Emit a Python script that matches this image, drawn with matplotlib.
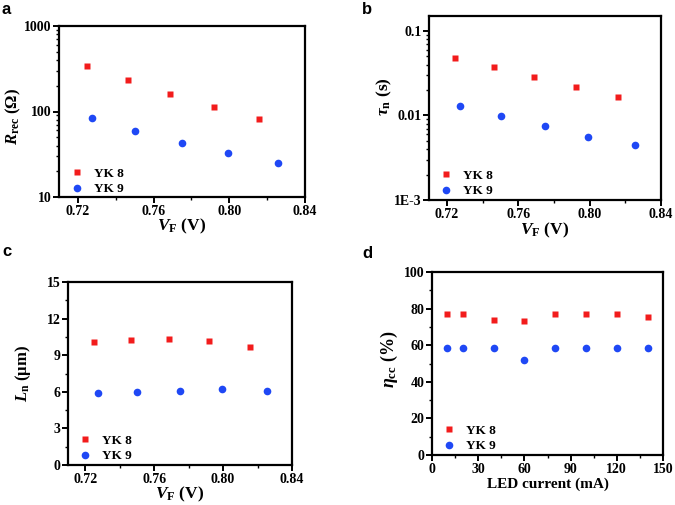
import numpy as np
import matplotlib.pyplot as plt
from matplotlib.ticker import MultipleLocator, LogLocator

# --- data ---
vf_yk8 = [0.7248, 0.7464, 0.7689, 0.7921, 0.8159]
vf_yk9 = [0.7273, 0.7503, 0.7749, 0.7991, 0.8256]

rrec_yk8 = [342, 234, 161, 112, 81]
rrec_yk9 = [84, 59.4, 42.3, 33.1, 25.1]

tau_yk8 = [0.0484, 0.0372, 0.0284, 0.0216, 0.0166]
tau_yk9 = [0.0130, 0.0098, 0.00755, 0.0056, 0.0045]

ln_yk8 = [10.07, 10.27, 10.35, 10.18, 9.66]
ln_yk9 = [5.89, 6.0, 6.05, 6.21, 6.1]

current = [10, 20, 40, 60, 80, 100, 120, 140]
eta_yk8 = [77.0, 77.0, 73.9, 73.0, 77.0, 77.0, 77.0, 75.4]
eta_yk9 = [58.6, 58.6, 58.6, 52.0, 58.6, 58.6, 58.6, 58.6]

red = '#f21c1c'
blue = '#1f48f5'

plt.rcParams['font.family'] = ['Liberation Serif', 'DejaVu Serif']
plt.rcParams['font.weight'] = 'bold'
plt.rcParams['mathtext.fontset'] = 'custom'
plt.rcParams['mathtext.rm'] = 'Liberation Serif:bold'
plt.rcParams['mathtext.it'] = 'Liberation Serif:italic:bold'
plt.rcParams['mathtext.bf'] = 'Liberation Serif:bold'
plt.rcParams['axes.linewidth'] = 1.6

fig = plt.figure(figsize=(6.75, 5.05), dpi=100)

# axes boxes in pixels: left, top, right, bottom
W, H = 675, 505
def box(l, t, r, b):
    return [l / W, (H - b) / H, (r - l) / W, (b - t) / H]

ax_a = fig.add_axes(box(59, 26, 305, 197))
ax_b = fig.add_axes(box(429, 16, 661, 200))
ax_c = fig.add_axes(box(68, 282, 292, 465))
ax_d = fig.add_axes(box(432, 272, 663, 455))

TICK = 10
LAB = 12


def style(ax):
    ax.tick_params(which='major', direction='out', length=4, width=1.4,
                   labelsize=TICK, pad=1.5)
    ax.tick_params(which='minor', direction='out', length=2.5, width=1.0)
    for lab in ax.get_xticklabels() + ax.get_yticklabels():
        lab.set_fontweight('bold')


def plot_pair(ax, x8, y8, x9, y9):
    ax.plot(x8, y8, 's', color=red, ms=5, mec='none', label='YK 8')
    ax.plot(x9, y9, 'o', color=blue, ms=5.5, mec='none', label='YK 9')
    ax.legend(loc='center left', bbox_to_anchor=(0.045, 0.09), frameon=False,
              borderpad=0, borderaxespad=0,
              handlelength=1.0, handletextpad=0.8, labelspacing=0.25,
              prop={'weight': 'bold', 'size': 9.5})


def vf_axis(ax, ylab_y):
    ax.set_xlim(0.71, 0.84)
    ax.set_xticks([0.72, 0.76, 0.80, 0.84])
    ax.set_xticklabels(['0.72', '0.76', '0.80', '0.84'])
    ax.xaxis.set_minor_locator(MultipleLocator(0.02))
    ax.set_xlabel(r'$\mathit{V}_{\mathrm{F}}$ (V)', fontsize=12.5, fontweight='bold')
    ax.xaxis.set_label_coords(0.5, ylab_y)


def log_minor(ax):
    ax.yaxis.set_minor_locator(LogLocator(base=10, subs=np.arange(2, 10)))


# a
plot_pair(ax_a, vf_yk8, rrec_yk8, vf_yk9, rrec_yk9)
ax_a.set_yscale('log')
ax_a.set_ylim(10, 1000)
ax_a.set_yticks([10, 100, 1000])
ax_a.set_yticklabels(['10', '100', '1000'])
log_minor(ax_a)
vf_axis(ax_a, -0.115)
ax_a.set_ylabel(r'$\mathit{R}_{\mathrm{rec}}$ ($\Omega$)', fontsize=LAB, fontweight='bold')
ax_a.yaxis.set_label_coords(-0.146, 0.47)
style(ax_a)

# b
plot_pair(ax_b, vf_yk8, tau_yk8, vf_yk9, tau_yk9)
ax_b.set_yscale('log')
ax_b.set_ylim(0.001, 0.15)
ax_b.set_yticks([0.001, 0.01, 0.1])
ax_b.set_yticklabels(['1E-3', '0.01', '0.1'])
log_minor(ax_b)
vf_axis(ax_b, -0.115)
ax_b.set_ylabel(r'$\mathit{\tau}_{\mathrm{n}}$ (s)', fontsize=12.5, fontweight='bold')
ax_b.yaxis.set_label_coords(-0.151, 0.56)
style(ax_b)

# c
plot_pair(ax_c, vf_yk8, ln_yk8, vf_yk9, ln_yk9)
ax_c.set_ylim(0, 15)
ax_c.set_yticks([0, 3, 6, 9, 12, 15])
ax_c.yaxis.set_minor_locator(MultipleLocator(1.5))
vf_axis(ax_c, -0.11)
ax_c.set_ylabel(r'$\mathit{L}_{\mathrm{n}}$ ($\mathrm{\mu}$m)', fontsize=LAB, fontweight='bold')
ax_c.yaxis.set_label_coords(-0.156, 0.5)
style(ax_c)

# d
plot_pair(ax_d, current, eta_yk8, current, eta_yk9)
ax_d.set_xlim(0, 150)
ax_d.set_xticks([0, 30, 60, 90, 120, 150])
ax_d.xaxis.set_minor_locator(MultipleLocator(15))
ax_d.set_ylim(0, 100)
ax_d.set_yticks([0, 20, 40, 60, 80, 100])
ax_d.yaxis.set_minor_locator(MultipleLocator(10))
ax_d.set_xlabel('LED current (mA)', fontsize=11, fontweight='bold')
ax_d.xaxis.set_label_coords(0.5, -0.125)
ax_d.set_ylabel(r'$\mathit{\eta}_{\mathrm{cc}}$ (%)', fontsize=13, fontweight='bold')
ax_d.yaxis.set_label_coords(-0.139, 0.52)
style(ax_d)

# panel letters
for txt, x, y in [('a', 2, 10), ('b', 362, 10), ('c', 2, 252), ('d', 362, 254)]:
    fig.text(x / W, 1 - y / H, txt, fontsize=12, fontweight='bold',
             family=['Liberation Sans', 'DejaVu Sans'], va='center', ha='left')

fig.savefig('out.png', dpi=100)
